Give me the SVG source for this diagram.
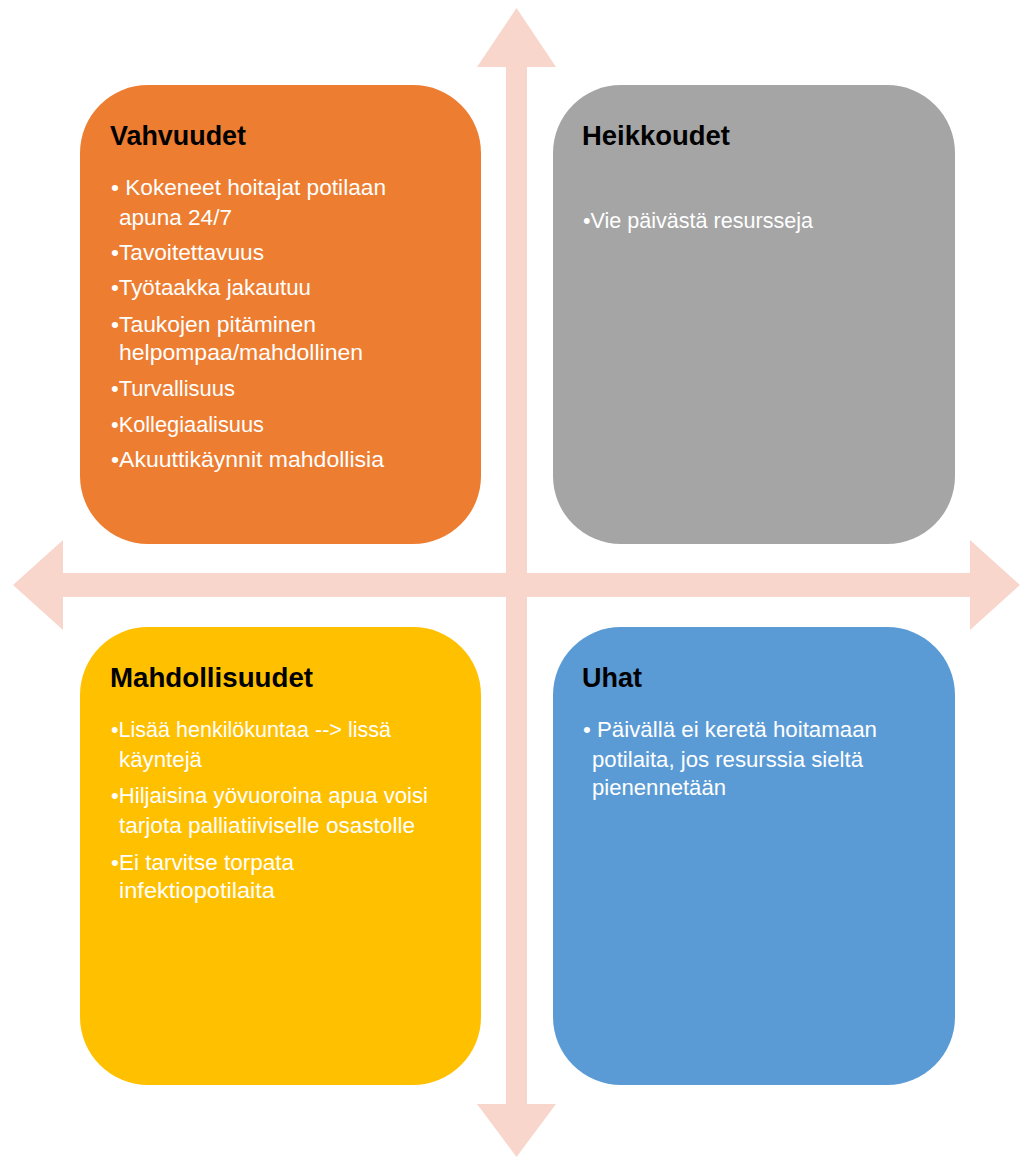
<svg xmlns="http://www.w3.org/2000/svg" width="1022" height="1158" viewBox="0 0 1022 1158">
<style>
.axis{fill:#F8D6CB}
.box{stroke:none}
.title{font-family:"Liberation Sans",Arial,sans-serif;font-weight:bold;font-size:27px;fill:#000}
.item{font-family:"Liberation Sans",Arial,sans-serif;font-size:22px;fill:#FFFFFF}
</style>
<rect width="1022" height="1158" fill="#FFFFFF"/>
<g id="connectors">
<polygon class="axis" points="506,67 477,67 516.5,8 556,67 527,67 527,1104 556,1104 516.5,1157 477,1104 506,1104"/>
<polygon class="axis" points="63,573 63,540 13,585 63,630 63,597 970,597 970,630 1020,585 970,540 970,573"/>
</g>
<g id="vahvuudet">
<rect class="box" x="80" y="85" width="401" height="459" rx="68" ry="68" fill="#ED7D31"/>
<text class="title" x="110" y="145" textLength="136" lengthAdjust="spacingAndGlyphs">Vahvuudet</text>
<text class="item" x="111" y="195" textLength="275" lengthAdjust="spacingAndGlyphs">• Kokeneet hoitajat potilaan</text>
<text class="item" x="119" y="225" textLength="113" lengthAdjust="spacingAndGlyphs">apuna 24/7</text>
<text class="item" x="111" y="260" textLength="153" lengthAdjust="spacingAndGlyphs">•Tavoitettavuus</text>
<text class="item" x="111" y="295" textLength="200" lengthAdjust="spacingAndGlyphs">•Työtaakka jakautuu</text>
<text class="item" x="111" y="332" textLength="205" lengthAdjust="spacingAndGlyphs">•Taukojen pitäminen</text>
<text class="item" x="119" y="360" textLength="244" lengthAdjust="spacingAndGlyphs">helpompaa/mahdollinen</text>
<text class="item" x="111" y="396" textLength="124" lengthAdjust="spacingAndGlyphs">•Turvallisuus</text>
<text class="item" x="111" y="432" textLength="153" lengthAdjust="spacingAndGlyphs">•Kollegiaalisuus</text>
<text class="item" x="111" y="467" textLength="273" lengthAdjust="spacingAndGlyphs">•Akuuttikäynnit mahdollisia</text>
</g>
<g id="heikkoudet">
<rect class="box" x="553" y="85" width="402" height="459" rx="68" ry="68" fill="#A5A5A5"/>
<text class="title" x="582" y="145" textLength="148" lengthAdjust="spacingAndGlyphs">Heikkoudet</text>
<text class="item" x="583" y="228" textLength="230" lengthAdjust="spacingAndGlyphs">•Vie päivästä resursseja</text>
</g>
<g id="mahdollisuudet">
<rect class="box" x="80" y="627" width="401" height="458" rx="68" ry="68" fill="#FFC000"/>
<text class="title" x="110" y="687" textLength="203" lengthAdjust="spacingAndGlyphs">Mahdollisuudet</text>
<text class="item" x="111" y="737" textLength="280" lengthAdjust="spacingAndGlyphs">•Lisää henkilökuntaa --&gt; lissä</text>
<text class="item" x="119" y="767" textLength="83" lengthAdjust="spacingAndGlyphs">käyntejä</text>
<text class="item" x="111" y="803" textLength="317" lengthAdjust="spacingAndGlyphs">•Hiljaisina yövuoroina apua voisi</text>
<text class="item" x="119" y="833" textLength="296" lengthAdjust="spacingAndGlyphs">tarjota palliatiiviselle osastolle</text>
<text class="item" x="111" y="870" textLength="183" lengthAdjust="spacingAndGlyphs">•Ei tarvitse torpata</text>
<text class="item" x="119" y="898" textLength="156" lengthAdjust="spacingAndGlyphs">infektiopotilaita</text>
</g>
<g id="uhat">
<rect class="box" x="553" y="627" width="402" height="458" rx="68" ry="68" fill="#5B9BD5"/>
<text class="title" x="582" y="687" textLength="60" lengthAdjust="spacingAndGlyphs">Uhat</text>
<text class="item" x="583" y="737" textLength="294" lengthAdjust="spacingAndGlyphs">• Päivällä ei keretä hoitamaan</text>
<text class="item" x="592" y="767" textLength="271" lengthAdjust="spacingAndGlyphs">potilaita, jos resurssia sieltä</text>
<text class="item" x="592" y="795" textLength="134" lengthAdjust="spacingAndGlyphs">pienennetään</text>
</g>
</svg>
